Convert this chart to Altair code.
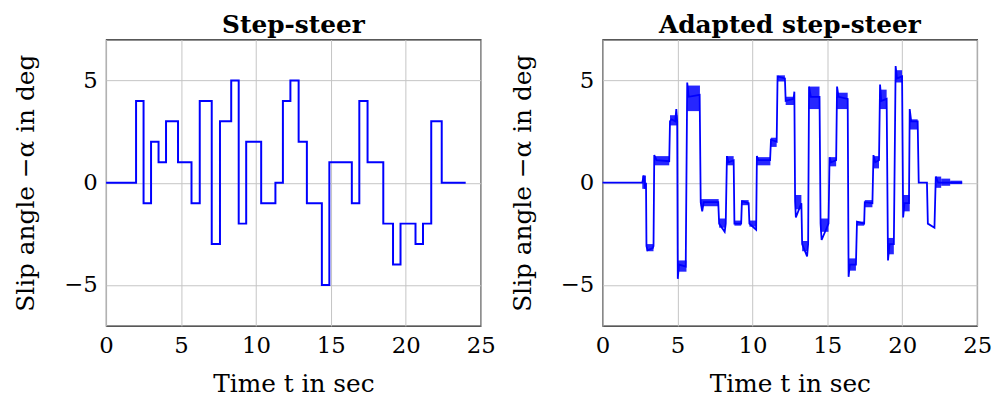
import altair as alt
import pandas as pd

# ---- Left panel: step-steer input (time in s, slip angle in deg)
step_t = [0, 2, 2.5, 3, 3.5, 4, 4.8, 5.7, 6.25, 7.05, 7.6, 8.35, 8.85, 9.35, 10.35, 11.3,
          11.8, 12.3, 12.85, 13.4, 14.4, 14.9, 16.4, 16.9, 17.45, 18.5, 19.15, 19.65, 20.65,
          21.15, 21.7, 22.4, 24]
step_val = [0, 4, -1, 2, 1, 3, 1, -1, 4, -3, 3, 5, -2, 2, -1, 0, 4, 5, 2, -1, -5, 1, -1, 4,
            1, -2, -4, -2, -3, -2, 3, 0, 0]

# ---- Right panel: adapted step-steer response (centre line)
resp_t = [0, 2.65, 2.75, 2.85, 2.9, 2.93, 3.0, 3.35, 3.4, 3.45, 3.6, 4.45, 4.5, 4.6, 4.85, 4.92,
          4.98, 5.02, 5.1, 5.55, 5.65, 5.75, 6.48, 6.55, 6.65, 6.75, 7.72, 7.78, 8.15, 8.22,
          8.3, 8.4, 8.75, 8.8, 9.25, 9.3, 9.75, 9.8, 10.25, 10.3, 10.4, 11.18, 11.24, 11.62,
          11.68, 12.17, 12.22, 12.75, 12.8, 12.85, 12.9, 13.27, 13.32, 13.65, 13.72, 13.78,
          13.9, 14.48, 14.55, 14.62, 15.08, 15.15, 15.25, 15.59, 15.65, 15.75, 16.36, 16.42,
          16.5, 16.91, 16.98, 17.46, 17.5, 18.01, 18.08, 18.2, 18.45, 18.52, 18.6, 18.96,
          19.05, 19.15, 19.44, 19.56, 19.65, 19.99, 20.06, 20.15, 20.45, 20.5, 20.6, 21.03,
          21.1, 21.65, 21.71, 22.15, 22.24, 22.4, 24.0]
resp_val = [0, 0, 0.35, -0.3, 0, -3.1, -3.3, -3.2, -3.1, 1.35, 1.1, 1.05, 3.0, 3.1, 3.0, 3.6,
            3.0, -4.7, -4.0, -4.1, 4.9, 4.2, 4.3, -0.95, -1.4, -0.95, -0.95, -2.0, -2.4, -2.0,
            1.3, 1.0, 1.1, -2.0, -2.0, -0.9, -1.0, -2.0, -2.3, 1.3, 1.1, 1.1, 2.1, 2.0,
            5.2, 5.1, 4.0, 4.1, 4.45, -0.9, -1.7, -1.0, -3.0, -3.6, -3.0, 4.7,
            4.2, 4.2, -2.0, -2.8, -2.0, 1.25, 1.0, 1.1, 4.7, 4.2, 4.1, -4.6,
            -4.0, -4.0, -1.9, -2.0, -0.95, -1.0, 1.35, 1.0, 1.1, 4.8, 4.0, 4.1,
            -3.8, -3.0, -3.0, 5.7, 5.1, 5.2, -1.7, -1.0, -1.0, 3.6, 3.0, 3.0,
            0.0, 0.0, -2.0, -2.2, 0.3, 0.0, 0.0]

# ---- Right panel: oscillation envelopes (start, end, low, high)
band_t0 = [2.65, 2.93, 3.45, 4.5, 5.02, 5.65, 6.55, 7.78, 8.3, 8.8, 9.3, 9.8, 10.3, 11.24,
           11.68, 12.22, 12.85, 13.32, 13.78, 14.55, 15.15, 15.65, 16.42, 16.98, 17.5, 18.08,
           18.52, 19.05, 19.56, 20.06, 20.5, 22.24, 22.6, 23.2]
band_t1 = [2.9, 3.4, 4.45, 5.0, 5.6, 6.5, 7.75, 8.2, 8.75, 9.25, 9.75, 10.25, 11.2, 11.62,
           12.17, 12.8, 13.27, 13.7, 14.48, 15.08, 15.59, 16.36, 16.91, 17.46, 18.01, 18.45,
           18.96, 19.44, 19.99, 20.5, 21.03, 22.6, 23.2, 24.0]
band_lo = [-0.3, -3.35, 0.85, 2.8, -4.35, 3.5, -1.15, -2.2, 0.85, -2.1, -1.1, -2.15, 0.85, 1.75,
           4.95, 3.8, -1.3, -3.35, 3.6, -2.4, 0.8, 3.6, -4.3, -2.1, -1.2, 0.7,
           3.6, -3.5, 4.9, -1.4, 2.6, -0.25, -0.15, -0.07]
band_hi = [0.35, -3.0, 1.3, 3.3, -3.8, 4.75, -0.8, -1.75, 1.3, -1.85, -0.85, -1.85, 1.25, 2.2,
           5.25, 4.2, -0.6, -2.85, 4.7, -1.75, 1.25, 4.4, -3.7, -1.9, -0.85, 1.3,
           4.55, -2.7, 5.5, -0.6, 3.1, 0.3, 0.2, 0.1]

x_ticks = [0, 5, 10, 15, 20, 25]
y_ticks = [-5, 0, 5]

FONT = "DejaVu Serif"
BLUE = "#0000ff"

step_df = pd.DataFrame({"t": step_t, "v": step_val})
resp_df = pd.DataFrame({"t": resp_t, "v": resp_val, "i": list(range(len(resp_t)))})
band_df = pd.DataFrame({"t0": band_t0, "t1": band_t1, "lo": band_lo, "hi": band_hi})

x_scale = alt.Scale(domain=[0, 25], nice=False, zero=False)
y_scale = alt.Scale(domain=[-7, 7], nice=False, zero=False)

x_axis = alt.Axis(title="Time t in sec", values=x_ticks, format="d")
y_axis = alt.Axis(title="Slip angle −α in deg", values=y_ticks, format="d")

W, H = 378, 289

left = alt.Chart(step_df).mark_line(
    interpolate="step-after", color=BLUE, strokeWidth=2
).encode(
    x=alt.X("t:Q", scale=x_scale, axis=x_axis),
    y=alt.Y("v:Q", scale=y_scale, axis=y_axis),
).properties(width=W, height=H, title="Step-steer")

bands = alt.Chart(band_df).mark_rect(color=BLUE, opacity=0.85).encode(
    x=alt.X("t0:Q", scale=x_scale, axis=x_axis),
    x2="t1:Q",
    y=alt.Y("lo:Q", scale=y_scale, axis=y_axis),
    y2="hi:Q",
)
resp_line = alt.Chart(resp_df).mark_line(color=BLUE, strokeWidth=1.8).encode(
    x=alt.X("t:Q", scale=x_scale, axis=x_axis),
    y=alt.Y("v:Q", scale=y_scale, axis=y_axis),
    order="i:Q",
)
right = alt.layer(bands, resp_line).properties(
    width=W, height=H, title="Adapted step-steer"
)

chart = alt.hconcat(left, right, spacing=13).configure(
    padding={"left": 5, "right": 0, "top": 2, "bottom": 5}, background="white"
).configure_view(
    stroke="#222222", strokeWidth=1.2
).configure_axis(
    grid=True, gridColor="#c4c4c4", gridWidth=1, domain=False, ticks=False,
    labelFont=FONT, labelFontSize=23, labelColor="black", labelPadding=9,
    titleFont=FONT, titleFontSize=25, titleFontWeight="normal", titleColor="black",
).configure_axisY(
    titlePadding=25,
).configure_axisX(
    titlePadding=14, labelFlush=False,
).configure_title(
    font=FONT, fontSize=25, fontWeight="bold", color="black", offset=2,
)

chart.save("out.html", embed_options={"renderer": "svg", "actions": False})
